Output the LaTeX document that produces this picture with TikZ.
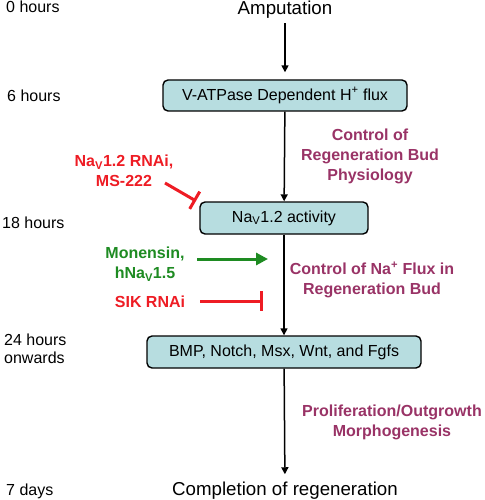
\documentclass[tikz,border=0pt]{standalone}
\usepackage{fontspec}
\setmainfont{Liberation Sans}
\usetikzlibrary{arrows.meta}

\definecolor{boxfill}{HTML}{B7DDE0}
\definecolor{budpurple}{HTML}{993366}
\definecolor{blockred}{HTML}{EE1C24}
\definecolor{pushgreen}{HTML}{1E8B22}

\begin{document}
\begin{tikzpicture}[x=1pt, y=-1pt,
	stage/.style={draw=black, line width=1.4pt, fill=boxfill, rounded corners=5pt, inner sep=0pt, minimum height=31pt, font=\fontsize{16}{20}\selectfont},
	endpoint/.style={inner sep=0pt, font=\fontsize{18.7}{22}\selectfont},
	timelbl/.style={inner sep=0pt, font=\fontsize{16}{18}\selectfont, align=left},
	note/.style={inner sep=0pt, font=\fontsize{16}{20}\selectfont\bfseries, align=center},
	flow/.style={line width=1.5pt, -{Triangle[width=7pt,length=7pt]}},
	inhibit/.style={line width=3pt, blockred, -{Bar[width=20pt]}},
	promote/.style={line width=3pt, pushgreen, -{Triangle[width=12pt,length=12pt]}}]
	\useasboundingbox (0,0) rectangle (484,500);

	% main sequence
	\node[endpoint, anchor=base] (amput) at (285,15) {Amputation};
	\node[stage, minimum width=244pt] (vatp) at (285,95.5) {V-ATPase Dependent H\textsuperscript{+} flux};
	\node[stage, minimum width=168pt, minimum height=32pt] (nav) at (284,218) {Na\textsubscript{V}1.2 activity};
	\node[stage, minimum width=274pt, minimum height=32pt] (bmp) at (284,352) {BMP, Notch, Msx, Wnt, and Fgfs};
	\node[endpoint, anchor=base] (done) at (285,495) {Completion of regeneration};

	\draw[flow, shorten <=4pt, shorten >=7pt] (amput) -- (vatp);
	\draw[flow] (vatp) -- (nav);
	\draw[flow] (nav) -- (bmp);
	\draw[flow, shorten >=7pt] (bmp) -- (done);

	% time line
	\node[timelbl, anchor=base west] (t0) at (6,13) {0 hours};
	\node[timelbl, anchor=base west] (t6) at (7,102) {6 hours};
	\node[timelbl, anchor=base west] (t18) at (2,228) {18 hours};
	\node[timelbl, anchor=west] (t24) at (4,349) {24 hours\\onwards};
	\node[timelbl, anchor=base west] (t7) at (6,495) {7 days};

	% phases
	\node[note, text=budpurple] (phys) at (370,156) {Control of\\Regeneration Bud\\Physiology};
	\node[note, text=budpurple] (naflux) at (372,280) {Control of Na\textsuperscript{+} Flux in\\Regeneration Bud};
	\node[note, text=budpurple] (prolif) at (392,422) {Proliferation/Outgrowth\\Morphogenesis};

	% treatments
	\node[note, text=blockred] (navrnai) at (124,171) {Na\textsubscript{V}1.2 RNAi,\\MS-222};
	\node[note, text=pushgreen] (monensin) at (145,264) {Monensin,\\hNa\textsubscript{V}1.5};
	\node[note, text=blockred, anchor=base] (sikrnai) at (150,307) {SIK RNAi};

	\coordinate (navfrom) at (165,183);
	\coordinate (navhit) at (196,201);
	\coordinate (monfrom) at (197,259);
	\coordinate (monhit) at (268,259);
	\coordinate (sikfrom) at (200,301);
	\coordinate (sikhit) at (263,301);

	\draw[inhibit] (navfrom) -- (navhit);
	\draw[promote] (monfrom) -- (monhit);
	\draw[inhibit] (sikfrom) -- (sikhit);
\end{tikzpicture}
\end{document}
